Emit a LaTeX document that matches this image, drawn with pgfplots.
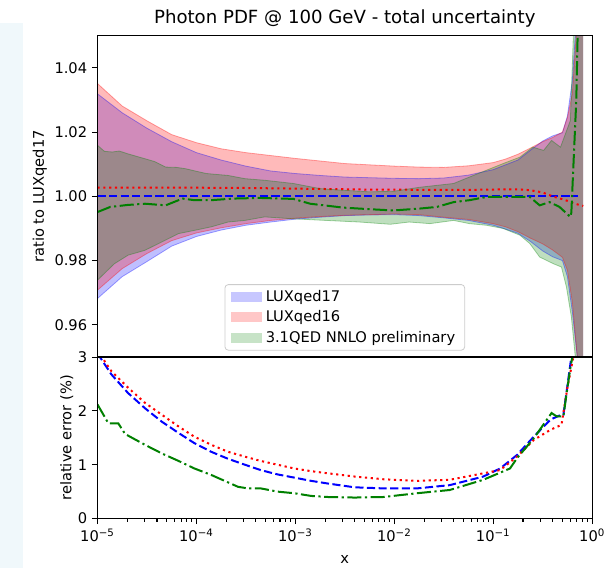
\documentclass[border=0pt]{standalone}
\usepackage{fontspec}
\setmainfont{DejaVu Sans}
\usepackage{pgfplots}
\usepackage{pgfplotstable}
\pgfplotsset{compat=1.18}
\usepgfplotslibrary{fillbetween}
\definecolor{mgreen}{RGB}{0,128,0}
\definecolor{stripc}{RGB}{240,248,251}
\definecolor{legframe}{RGB}{204,204,204}

\pgfplotstableread{
x        b17u   b17l   r16u   r16l   r16c
1e-5     1.0319 0.9682 1.0351 0.9708 1.0027
1.778e-5 1.0260 0.9750 1.0281 0.9775 1.0027
3.162e-5 1.0212 0.9797 1.0235 0.9822 1.0027
5.623e-5 1.0170 0.9845 1.0192 0.9862 1.0027
1e-4     1.0136 0.9875 1.0167 0.9886 1.0027
1.778e-4 1.0113 0.9895 1.0148 0.9902 1.0026
3.162e-4 1.0094 0.9910 1.0136 0.9915 1.0026
5.623e-4 1.0079 0.9920 1.0127 0.9925 1.0025
1e-3     1.0071 0.9929 1.0118 0.9932 1.0024
1.778e-3 1.0065 0.9935 1.0110 0.9937 1.0023
3.162e-3 1.0060 0.9940 1.0102 0.9941 1.0022
5.623e-3 1.0058 0.9942 1.0098 0.9943 1.0021
1e-2     1.0056 0.9943 1.0094 0.9945 1.0021
1.778e-2 1.0055 0.9940 1.0091 0.9943 1.0020
3.162e-2 1.0057 0.9933 1.0090 0.9935 1.0020
5.623e-2 1.0066 0.9925 1.0095 0.9928 1.0020
0.1      1.0083 0.9910 1.0105 0.9915 1.0021
0.1334   1.0098 0.9898 1.0116 0.9905 1.0022
0.1778   1.0113 0.9885 1.0131 0.9890 1.0022
0.2371   1.0143 0.9860 1.0150 0.9870 1.0019
0.3162   1.0172 0.9830 1.0170 0.9852 1.0012
0.3981   1.0188 0.9812 1.0183 0.9833 1.0000
0.5012   1.0198 0.9800 1.0200 0.9810 0.9991
0.5623   1.0250 0.9750 1.0245 0.9770 0.9986
0.6310   1.0360 0.9640 1.0320 0.9670 0.9980
0.7079   1.0600 0.9500 1.0550 0.9500 0.9975
0.7943   1.1000 0.9000 1.1000 0.9000 0.9971
0.8128   1.1200 0.8800 1.1200 0.8800 0.9970
}\luxtab

\begin{document}
\begin{tikzpicture}
\fill[stripc] (0pt,0pt) rectangle (17.25pt,408.75pt);

% ---------------- top panel ----------------
\begin{axis}[
  at={(73.1pt,158.25pt)}, anchor=south west,
  scale only axis, width=371pt, height=241pt,
  xmode=log, xmin=1e-5, xmax=1,
  ymin=0.95, ymax=1.05,
  xtick=\empty,
  ytick={0.96,0.98,1.00,1.02,1.04},
  yticklabel style={/pgf/number format/.cd, fixed, fixed zerofill, precision=2},
  /pgf/number format/assume math mode=true,
  tick pos=left, tick align=outside,
  major tick length=4.2pt,
  every tick/.style={black, line width=0.8pt},
  axis line style={black, line width=0.8pt},
  tick label style={font=\fontsize{11}{13}\selectfont},
  label style={font=\fontsize{11}{13}\selectfont},
  ylabel={ratio to LUXqed17},
  ylabel style={yshift=-1.2pt},
  title={Photon PDF @ 100 GeV - total uncertainty},
  title style={font=\fontsize{13.6}{15}\selectfont, at={(0.5,1)}, anchor=base, yshift=2.8pt},
  axis on top,
  legend image code/.code={\fill[#1, sharp corners] (0pt,-3.7pt) rectangle (23.5pt,3.7pt);},
  legend style={at={(0.5,0.02)}, anchor=south, draw=legframe, line width=0.6pt,
    rounded corners=2.5pt, fill=white, font=\fontsize{11}{13}\selectfont,
    inner xsep=4.6pt, inner ysep=3.2pt, row sep=3.6pt,
    nodes={inner xsep=2.5pt, inner ysep=1pt}},
  legend cell align=left,
]
% LUXqed17 band
\addplot[name path=bu, draw=blue, draw opacity=0.35, line width=0.6pt, forget plot] table[x=x,y=b17u]{\luxtab};
\addplot[name path=bl, draw=blue, draw opacity=0.35, line width=0.6pt, forget plot] table[x=x,y=b17l]{\luxtab};
\addplot[fill=blue, fill opacity=0.25, draw=none, forget plot] fill between[of=bu and bl];
\addplot[blue, line width=1.5pt, dash pattern=on 6.1pt off 2.6pt, forget plot] coordinates {(1e-5,1.0) (0.7244,1.0)};
% LUXqed16 band
\addplot[name path=ru, draw=red, draw opacity=0.35, line width=0.6pt, forget plot] table[x=x,y=r16u]{\luxtab};
\addplot[name path=rl, draw=red, draw opacity=0.35, line width=0.6pt, forget plot] table[x=x,y=r16l]{\luxtab};
\addplot[fill=red, fill opacity=0.27, draw=none, forget plot] fill between[of=ru and rl];
\addplot[red, line width=1.5pt, dash pattern=on 1.65pt off 2.7pt, forget plot] table[x=x,y=r16c]{\luxtab};
% 3.1QED NNLO band
\addplot[name path=gu, draw=mgreen, draw opacity=0.35, line width=0.6pt, forget plot] coordinates {
(1e-5,1.0159) (1.175e-5,1.0140) (1.413e-5,1.0138) (1.660e-5,1.0141) (2.042e-5,1.0132)
(3.020e-5,1.0117) (3.802e-5,1.0108) (4.898e-5,1.0091) (6.310e-5,1.0090) (7.762e-5,1.0086)
(1e-4,1.0078) (1.259e-4,1.0071) (2.089e-4,1.0065) (3.090e-4,1.0055) (4.898e-4,1.0050)
(9.550e-4,1.0040) (1.778e-3,1.0024) (3.020e-3,1.0019) (5.623e-3,1.0014) (1e-2,1.0016)
(1.778e-2,1.0028) (3.981e-2,1.0040) (6.310e-2,1.0065) (8.511e-2,1.0081) (0.1259,1.0102)
(0.1862,1.0122) (0.2512,1.0153) (0.3236,1.0143) (0.3890,1.0174) (0.4786,1.0153)
(0.6026,1.0236) (0.6457,1.0500) (0.6761,1.0800) (0.7943,1.2000) (0.8128,1.2200)};
\addplot[name path=gl, draw=mgreen, draw opacity=0.35, line width=0.6pt, forget plot] coordinates {
(1e-5,0.9739) (1.175e-5,0.9760) (1.479e-5,0.9790) (2.042e-5,0.9817) (3.020e-5,0.9832)
(4.467e-5,0.9858) (6.607e-5,0.9884) (9.550e-5,0.9894) (1.413e-4,0.9905) (2.089e-4,0.9920)
(3.090e-4,0.9925) (4.898e-4,0.9936) (9.550e-4,0.9930) (2.042e-3,0.9925) (4.467e-3,0.9920)
(9.120e-3,0.9913) (1.413e-2,0.9920) (2.291e-2,0.9915) (3.981e-2,0.9925) (5.754e-2,0.9915)
(8.511e-2,0.9910) (0.1259,0.9900) (0.1862,0.9879) (0.2344,0.9853) (0.2951,0.9811)
(0.4074,0.9790) (0.4898,0.9780) (0.5495,0.9718) (0.6166,0.9625) (0.6761,0.9500)
(0.7943,0.8500) (0.8128,0.8000)};
\addplot[fill=mgreen, fill opacity=0.25, draw=none, forget plot] fill between[of=gu and gl];
\addplot[mgreen, line width=1.5pt, dash pattern=on 10.6pt off 2.6pt on 1.65pt off 2.6pt, forget plot] coordinates {
(1e-5,0.9951) (1.349e-5,0.9967) (1.995e-5,0.9973) (3.020e-5,0.9977) (4.898e-5,0.9972)
(7.244e-5,0.9993) (9.550e-5,0.9988) (1.413e-4,0.9988) (2.344e-4,0.9993) (4.365e-4,0.9995)
(9.550e-4,0.9992) (1.413e-3,0.9977) (3.020e-3,0.9965) (5.623e-3,0.9960) (9.772e-3,0.9956)
(1.820e-2,0.9962) (2.692e-2,0.9967) (3.981e-2,0.9982) (5.754e-2,0.9988) (8.511e-2,0.9998)
(0.2344,0.9998) (0.2951,0.9972) (0.3715,0.9982) (0.4677,0.9967) (0.6026,0.9936)
(0.6166,0.9950) (0.6457,1.0091) (0.6918,1.0300) (0.7244,1.0600)};
\addlegendimage{fill=blue, fill opacity=0.22, draw=none}
\addlegendentry{LUXqed17}
\addlegendimage{fill=red, fill opacity=0.22, draw=none}
\addlegendentry{LUXqed16}
\addlegendimage{fill=mgreen, fill opacity=0.22, draw=none}
\addlegendentry{3.1QED NNLO preliminary}
\end{axis}

% ---------------- bottom panel ----------------
\begin{axis}[
  at={(73.1pt,37.1pt)}, anchor=south west,
  scale only axis, width=371pt, height=121.1pt,
  xmode=log, xmin=1e-5, xmax=1,
  ymin=0, ymax=3,
  xtick={1e-5,1e-4,1e-3,1e-2,1e-1,1},
  xticklabels={10\textsuperscript{−5},10\textsuperscript{−4},10\textsuperscript{−3},10\textsuperscript{−2},10\textsuperscript{−1},10\textsuperscript{0}},
  minor xtick={2e-5,3e-5,4e-5,5e-5,6e-5,7e-5,8e-5,9e-5,
               2e-4,3e-4,4e-4,5e-4,6e-4,7e-4,8e-4,9e-4,
               2e-3,3e-3,4e-3,5e-3,6e-3,7e-3,8e-3,9e-3,
               2e-2,3e-2,4e-2,5e-2,6e-2,7e-2,8e-2,9e-2,
               0.2,0.3,0.4,0.5,0.6,0.7,0.8,0.9},
  ytick={0,1,2,3},
  /pgf/number format/assume math mode=true,
  tick pos=left, tick align=outside,
  major tick length=4.2pt, minor tick length=2.4pt,
  every tick/.style={black, line width=0.8pt},
  axis line style={black, line width=0.8pt},
  tick label style={font=\fontsize{11}{13}\selectfont},
  label style={font=\fontsize{11}{13}\selectfont},
  ylabel={relative error (\%)},
  ylabel style={yshift=-3.5pt},
  xlabel={x},
  xlabel style={yshift=-3.5pt},
  axis on top,
]
\addplot[blue, line width=1.5pt, dash pattern=on 6.1pt off 2.6pt] coordinates {
(1e-5,3.07) (1.380e-5,2.68) (2.042e-5,2.33) (3.020e-5,2.05) (4.467e-5,1.80) (6.607e-5,1.59)
(9.550e-5,1.40) (1.413e-4,1.24) (2.089e-4,1.11) (3.090e-4,1.00) (4.467e-4,0.90) (6.607e-4,0.82)
(9.772e-4,0.76) (1.445e-3,0.70) (2.138e-3,0.65) (3.981e-3,0.58) (7.762e-3,0.56) (1.698e-2,0.56)
(3.631e-2,0.62) (7.943e-2,0.78) (0.1175,0.93) (0.1738,1.18) (0.2570,1.52) (0.3802,1.84)
(0.4898,1.93) (0.5129,1.93) (0.6166,3.0) (0.7079,5.0)};
\addplot[red, line width=1.5pt, dash pattern=on 1.65pt off 2.7pt] coordinates {
(1e-5,3.12) (1.380e-5,2.74) (2.042e-5,2.43) (3.020e-5,2.15) (4.467e-5,1.93) (6.607e-5,1.71)
(9.550e-5,1.52) (1.413e-4,1.37) (2.089e-4,1.24) (3.090e-4,1.15) (4.467e-4,1.07) (6.607e-4,1.00)
(9.772e-4,0.93) (1.445e-3,0.88) (2.138e-3,0.84) (3.981e-3,0.78) (7.762e-3,0.73) (1.698e-2,0.70)
(3.631e-2,0.72) (7.943e-2,0.84) (0.1175,0.90) (0.1738,1.15) (0.2570,1.46) (0.3802,1.65)
(0.4898,1.74) (0.5623,2.43) (0.6457,3.0) (0.7079,5.0)};
\addplot[mgreen, line width=1.5pt, dash pattern=on 10.6pt off 2.6pt on 1.65pt off 2.6pt] coordinates {
(1e-5,2.12) (1.288e-5,1.77) (1.622e-5,1.77) (1.905e-5,1.57) (3.020e-5,1.37) (4.467e-5,1.21)
(6.607e-5,1.07) (9.550e-5,0.93) (1.413e-4,0.81) (2.630e-4,0.59) (3.311e-4,0.56) (4.467e-4,0.56)
(6.607e-4,0.50) (9.772e-4,0.47) (1.445e-3,0.42) (2.138e-3,0.40) (3.981e-3,0.39) (7.762e-3,0.40)
(1.698e-2,0.47) (3.631e-2,0.53) (7.943e-2,0.72) (0.1479,0.93) (0.1738,1.12) (0.2570,1.49)
(0.3890,1.96) (0.4365,1.90) (0.5129,1.90) (0.5495,2.3) (0.6026,2.8) (0.6457,3.1) (0.7079,5.0)};
\end{axis}
\pgfresetboundingbox
\useasboundingbox (0pt,0pt) rectangle (455.25pt,426pt);
\end{tikzpicture}
\end{document}
